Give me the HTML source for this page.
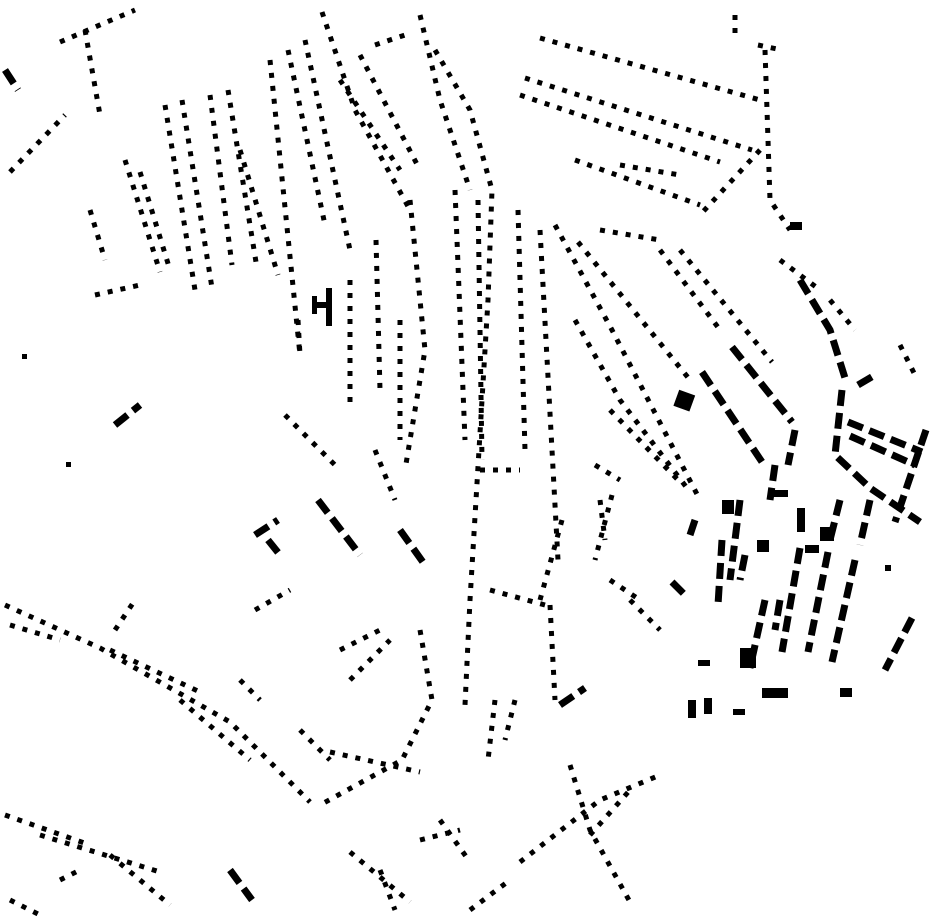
<!DOCTYPE html>
<html><head><meta charset="utf-8"><style>html,body{margin:0;padding:0;background:#fff}svg{display:block}</style></head>
<body>
<svg width="930" height="924" viewBox="0 0 930 924" xmlns="http://www.w3.org/2000/svg">
<g fill="none" stroke="#000" stroke-width="5" stroke-dasharray="5 8">
<polyline points="10,172 65,115"/>
<polyline points="60,42 135,10"/>
<polyline points="85,30 100,115"/>
<polyline points="125,160 160,272"/>
<polyline points="140,172 170,270"/>
<polyline points="165,105 195,290"/>
<polyline points="182,100 212,288"/>
<polyline points="210,95 232,265"/>
<polyline points="228,90 256,262"/>
<polyline points="240,150 278,275"/>
<polyline points="270,60 300,355"/>
<polyline points="288,50 325,225"/>
<polyline points="305,40 350,250"/>
<polyline points="322,12 355,110 410,210"/>
<polyline points="340,80 400,170"/>
<polyline points="360,55 420,170"/>
<polyline points="375,45 405,35"/>
<polyline points="420,15 440,100 470,190"/>
<polyline points="435,50 470,110 492,190 488,300 470,600 465,705"/>
<polyline points="410,200 425,350 405,470"/>
<polyline points="455,190 465,440"/>
<polyline points="478,200 482,460"/>
<polyline points="518,210 525,450"/>
<polyline points="480,470 520,470"/>
<polyline points="540,230 558,560"/>
<polyline points="555,225 612,330 700,500"/>
<polyline points="578,242 690,380"/>
<polyline points="575,320 620,400 690,492"/>
<polyline points="610,410 680,482"/>
<polyline points="660,250 720,330"/>
<polyline points="680,250 772,362"/>
<polyline points="540,38 760,100"/>
<polyline points="525,78 752,150"/>
<polyline points="520,95 720,162"/>
<polyline points="575,160 700,205"/>
<polyline points="620,165 680,175"/>
<polyline points="735,15 735,40"/>
<polyline points="758,45 782,50"/>
<polyline points="765,50 770,200 790,230"/>
<polyline points="760,150 700,215"/>
<polyline points="350,280 350,410"/>
<polyline points="376,240 380,390"/>
<polyline points="400,320 400,440"/>
<polyline points="298,320 300,355"/>
<polyline points="285,415 340,470"/>
<polyline points="375,450 395,500"/>
<polyline points="5,605 100,648 230,722 310,802"/>
<polyline points="10,625 60,640"/>
<polyline points="110,650 200,692"/>
<polyline points="115,630 135,600"/>
<polyline points="180,700 250,760"/>
<polyline points="330,752 420,772"/>
<polyline points="420,630 432,700 402,760 320,805"/>
<polyline points="340,650 380,630"/>
<polyline points="350,680 390,640"/>
<polyline points="255,610 290,590"/>
<polyline points="490,590 545,605"/>
<polyline points="495,700 488,760"/>
<polyline points="515,700 505,740"/>
<polyline points="550,605 555,700"/>
<polyline points="562,520 540,600"/>
<polyline points="600,500 605,540"/>
<polyline points="612,495 595,560"/>
<polyline points="5,815 90,845"/>
<polyline points="10,900 40,915"/>
<polyline points="40,835 160,872"/>
<polyline points="110,855 170,905"/>
<polyline points="60,880 80,870"/>
<polyline points="350,852 410,902"/>
<polyline points="380,870 395,910"/>
<polyline points="440,820 470,862"/>
<polyline points="420,840 460,830"/>
<polyline points="520,862 600,800 660,775"/>
<polyline points="570,765 590,830 630,902"/>
<polyline points="470,910 510,880"/>
<polyline points="590,835 630,790"/>
<polyline points="300,730 330,760"/>
<polyline points="610,580 640,600"/>
<polyline points="630,600 660,630"/>
<polyline points="595,465 620,480"/>
<polyline points="90,210 105,260"/>
<polyline points="95,295 140,285"/>
<polyline points="780,260 820,290"/>
<polyline points="900,345 915,375"/>
<polyline points="830,300 855,330"/>
<polyline points="240,680 260,700"/>
<polyline points="600,230 660,240"/>
</g>
<g fill="none" stroke="#000" stroke-width="7" stroke-dasharray="16 7">
<polyline points="800,280 830,330 845,378"/>
<polyline points="732,347 792,422"/>
<polyline points="702,372 762,462"/>
<polyline points="842,390 835,455 870,488 920,522"/>
<polyline points="848,422 922,452"/>
<polyline points="850,436 915,465"/>
<polyline points="926,430 895,522"/>
<polyline points="858,385 875,375"/>
<polyline points="840,500 830,540"/>
<polyline points="855,560 832,662"/>
<polyline points="828,552 808,652"/>
<polyline points="800,548 782,652"/>
<polyline points="765,600 750,668"/>
<polyline points="912,618 885,670"/>
<polyline points="795,430 788,465"/>
<polyline points="775,465 770,500"/>
<polyline points="740,500 730,580"/>
<polyline points="722,540 718,605"/>
<polyline points="745,555 740,580"/>
<polyline points="318,500 360,555"/>
<polyline points="400,530 425,565"/>
<polyline points="255,535 278,520"/>
<polyline points="268,540 280,555"/>
<polyline points="115,425 140,405"/>
<polyline points="5,70 18,90"/>
<polyline points="230,870 252,900"/>
<polyline points="560,705 585,688"/>
<polyline points="695,520 690,535"/>
<polyline points="672,582 688,598"/>
<polyline points="870,500 860,545"/>
<polyline points="780,600 775,630"/>
</g>
<g fill="#000">
<rect x="676" y="392" width="17" height="17" transform="rotate(20 684 400)"/>
<rect x="314" y="302" width="18" height="6"/>
<rect x="326" y="288" width="6" height="38"/>
<rect x="312" y="296" width="5" height="18"/>
<rect x="762" y="688" width="26" height="10"/>
<rect x="688" y="700" width="8" height="18"/>
<rect x="704" y="698" width="8" height="16"/>
<rect x="733" y="709" width="12" height="6"/>
<rect x="790" y="222" width="12" height="8"/>
<rect x="840" y="688" width="12" height="9"/>
<rect x="757" y="540" width="12" height="12"/>
<rect x="820" y="527" width="14" height="14"/>
<rect x="768" y="490" width="20" height="7"/>
<rect x="797" y="508" width="8" height="24"/>
<rect x="740" y="648" width="16" height="20"/>
<rect x="698" y="660" width="12" height="6"/>
<rect x="22" y="354" width="5" height="5"/>
<rect x="66" y="462" width="5" height="5"/>
<rect x="722" y="500" width="12" height="14"/>
<rect x="885" y="565" width="6" height="6"/>
<rect x="805" y="545" width="14" height="8"/>
</g>
</svg>
</body></html>
